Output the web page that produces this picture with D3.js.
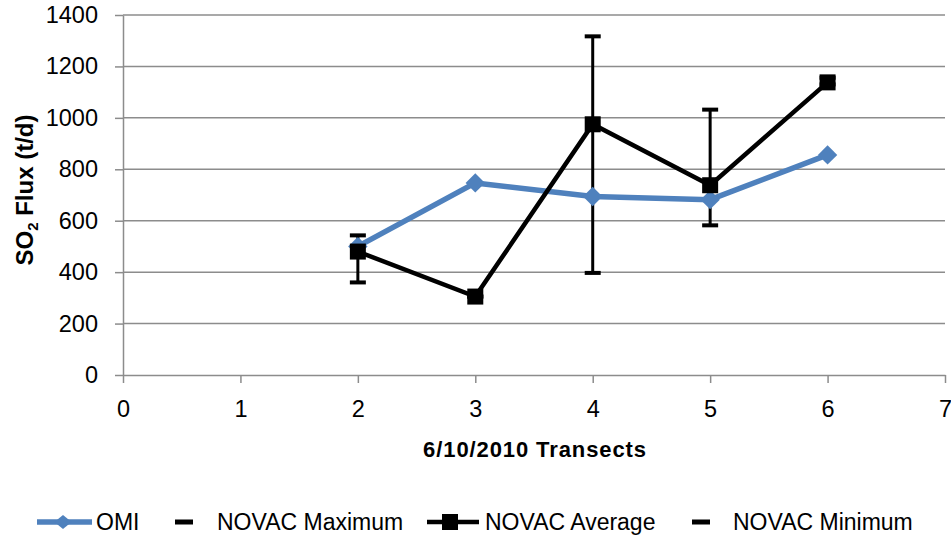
<!DOCTYPE html>
<html>
<head>
<meta charset="utf-8">
<script src="https://cdn.jsdelivr.net/npm/d3@7"></script>
<style>
  body { margin: 0; background: #fff; }
  svg { display: block; }
</style>
</head>
<body>
<div id="chart"></div>
<script>
// data
var transects = [2, 3, 4, 5, 6];
var omi = [500, 747, 694, 682, 856];
var novacAvg = [480, 305, 975, 738, 1138];
var novacMax = [543, 305, 1317, 1032, 1156];
var novacMin = [360, 305, 397, 582, 1130];
var xTicks = [0, 1, 2, 3, 4, 5, 6, 7];
var yTicks = [0, 200, 400, 600, 800, 1000, 1200, 1400];
var legendNames = ["OMI", "NOVAC Maximum", "NOVAC Average", "NOVAC Minimum"];

var width = 951, height = 538;
var font = "'Liberation Sans', Arial, sans-serif";

var svg = d3.select("#chart").append("svg")
  .attr("width", width)
  .attr("height", height);

var x = d3.scaleLinear().domain([0, 7]).range([123, 945]);
var y = d3.scaleLinear().domain([0, 1400]).range([375, 15]);

// gridlines
svg.append("g").selectAll("line")
  .data(yTicks.slice(1))
  .enter().append("line")
  .attr("x1", x(0)).attr("x2", x(7))
  .attr("y1", function (d) { return y(d); })
  .attr("y2", function (d) { return y(d); })
  .attr("stroke", "#8c8c8c")
  .attr("stroke-width", 1.5);

// y axis
var yAxis = d3.axisLeft(y).tickValues(yTicks).tickFormat(d3.format("d"))
  .tickSize(8).tickSizeOuter(0).tickPadding(17);
var gy = svg.append("g")
  .attr("transform", "translate(" + x(0) + ",0)")
  .call(yAxis);
gy.select(".domain").attr("stroke", "#8c8c8c").attr("stroke-width", 1.5);
gy.selectAll(".tick line").attr("stroke", "#8c8c8c").attr("stroke-width", 1.5);
gy.selectAll(".tick text")
  .attr("font-family", font)
  .attr("font-size", 23.5)
  .attr("fill", "#000");

// x axis
var xAxis = d3.axisBottom(x).tickValues(xTicks).tickFormat(d3.format("d"))
  .tickSize(8).tickSizeOuter(0).tickPadding(17);
var gx = svg.append("g")
  .attr("transform", "translate(0," + y(0) + ")")
  .call(xAxis);
gx.select(".domain").attr("stroke", "#8c8c8c").attr("stroke-width", 1.5);
gx.selectAll(".tick line").attr("stroke", "#8c8c8c").attr("stroke-width", 1.5);
gx.selectAll(".tick text")
  .attr("font-family", font)
  .attr("font-size", 23.5)
  .attr("fill", "#000");

// axis titles
svg.append("text")
  .attr("x", 535).attr("y", 457)
  .attr("text-anchor", "middle")
  .attr("font-family", font)
  .attr("font-weight", "bold")
  .attr("font-size", 22)
  .attr("letter-spacing", 0.9)
  .text("6/10/2010 Transects");

var yt = svg.append("text")
  .attr("transform", "translate(33,190) rotate(-90)")
  .attr("text-anchor", "middle")
  .attr("font-family", font)
  .attr("font-weight", "bold")
  .attr("font-size", 24);
yt.append("tspan").text("SO");
yt.append("tspan").attr("font-size", 15).attr("dy", 5).text("2");
yt.append("tspan").attr("dy", -5).text(" Flux (t/d)");

var idx = d3.range(transects.length);
var blue = "#4f81bd";

// error bars (min to max)
svg.append("g").selectAll("line")
  .data(idx)
  .enter().append("line")
  .attr("x1", function (i) { return x(transects[i]); })
  .attr("x2", function (i) { return x(transects[i]); })
  .attr("y1", function (i) { return y(novacMin[i]); })
  .attr("y2", function (i) { return y(novacMax[i]); })
  .attr("stroke", "#000")
  .attr("stroke-width", 3);

// OMI line
svg.append("path")
  .datum(idx)
  .attr("d", d3.line().x(function (i) { return x(transects[i]); }).y(function (i) { return y(omi[i]); }))
  .attr("fill", "none")
  .attr("stroke", blue)
  .attr("stroke-width", 5.5)
  .attr("stroke-linejoin", "round");

svg.append("g").selectAll("path")
  .data(idx)
  .enter().append("path")
  .attr("d", d3.symbol().type(d3.symbolDiamond2).size(240))
  .attr("transform", function (i) { return "translate(" + x(transects[i]) + "," + y(omi[i]) + ")"; })
  .attr("fill", blue);

// NOVAC average
svg.append("path")
  .datum(idx)
  .attr("d", d3.line().x(function (i) { return x(transects[i]); }).y(function (i) { return y(novacAvg[i]); }))
  .attr("fill", "none")
  .attr("stroke", "#000")
  .attr("stroke-width", 4.5)
  .attr("stroke-linejoin", "miter");

svg.append("g").selectAll("rect")
  .data(idx)
  .enter().append("rect")
  .attr("x", function (i) { return x(transects[i]) - 8; })
  .attr("y", function (i) { return y(novacAvg[i]) - 8; })
  .attr("width", 16).attr("height", 16)
  .attr("fill", "#000");

// max / min dash markers (caps)
function dashes(vals) {
  svg.append("g").selectAll("rect")
    .data(idx)
    .enter().append("rect")
    .attr("x", function (i) { return x(transects[i]) - 8; })
    .attr("y", function (i) { return y(vals[i]) - 2; })
    .attr("width", 16).attr("height", 4)
    .attr("fill", "#000");
}
dashes(novacMax);
dashes(novacMin);

// legend
var ly = 522;
var markX = [37, 175, 427, 692];
var textX = [96, 217, 485, 733];

var lg = svg.append("g");
lg.append("line").attr("x1", markX[0]).attr("x2", markX[0] + 55)
  .attr("y1", ly).attr("y2", ly).attr("stroke", blue).attr("stroke-width", 5.5);
lg.append("path")
  .attr("d", d3.symbol().type(d3.symbolDiamond2).size(170))
  .attr("transform", "translate(" + (markX[0] + 26) + "," + ly + ") scale(1.05,0.85)")
  .attr("fill", blue);
lg.append("rect").attr("x", markX[1]).attr("y", ly - 2.5).attr("width", 18).attr("height", 5).attr("fill", "#000");
lg.append("line").attr("x1", markX[2]).attr("x2", markX[2] + 52)
  .attr("y1", ly).attr("y2", ly).attr("stroke", "#000").attr("stroke-width", 4.5);
lg.append("rect").attr("x", markX[2] + 15).attr("y", ly - 8).attr("width", 16).attr("height", 16).attr("fill", "#000");
lg.append("rect").attr("x", markX[3]).attr("y", ly - 2.5).attr("width", 18).attr("height", 5).attr("fill", "#000");

lg.selectAll("text")
  .data(legendNames)
  .enter().append("text")
  .attr("x", function (d, i) { return textX[i]; })
  .attr("y", 530)
  .attr("font-family", font)
  .attr("font-size", 23)
  .text(function (d) { return d; });
</script>
</body>
</html>
